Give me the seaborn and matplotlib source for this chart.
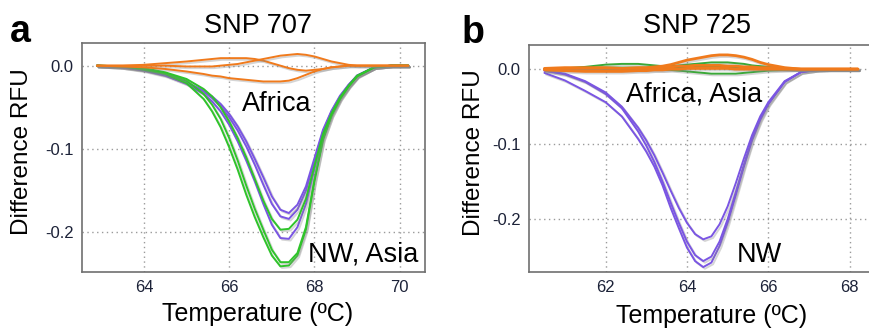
import matplotlib
matplotlib.use("Agg")
import matplotlib.pyplot as plt
import matplotlib.patheffects as pe
import seaborn as sns
import pandas as pd

# ---- panel a : SNP 707 ----
temps_a = [62.9, 63.5, 64.0, 64.5, 65.0, 65.4, 65.6, 65.8, 66.0, 66.2, 66.4, 66.6, 66.8,
           67.0, 67.2, 67.4, 67.6, 67.8, 68.0, 68.2, 68.4, 68.6, 68.8, 69.0, 69.4, 69.8, 70.2]

a_purple_1 = [0, -0.002, -0.006, -0.012, -0.022, -0.034, -0.043, -0.055, -0.071, -0.091, -0.114, -0.139, -0.166,
              -0.191, -0.207, -0.208, -0.194, -0.166, -0.124, -0.084, -0.057, -0.038, -0.024, -0.012, -0.002, 0, 0]
a_purple_2 = [0, -0.002, -0.005, -0.011, -0.020, -0.031, -0.039, -0.049, -0.062, -0.078, -0.097, -0.119, -0.143,
              -0.166, -0.181, -0.184, -0.173, -0.150, -0.114, -0.079, -0.055, -0.037, -0.023, -0.012, -0.002, 0, 0]
a_purple_3 = [0, -0.002, -0.005, -0.011, -0.020, -0.030, -0.037, -0.046, -0.058, -0.073, -0.091, -0.112, -0.134,
              -0.157, -0.173, -0.177, -0.167, -0.145, -0.111, -0.077, -0.054, -0.036, -0.023, -0.012, -0.002, 0, 0]
a_green_1 = [0, -0.001, -0.005, -0.010, -0.021, -0.040, -0.055, -0.074, -0.098, -0.125, -0.155, -0.182, -0.206,
             -0.228, -0.241, -0.240, -0.228, -0.197, -0.139, -0.089, -0.060, -0.040, -0.025, -0.013, -0.002, 0, 0]
a_green_2 = [0, -0.001, -0.004, -0.009, -0.018, -0.034, -0.047, -0.064, -0.087, -0.114, -0.144, -0.172, -0.197,
             -0.221, -0.236, -0.236, -0.225, -0.194, -0.137, -0.088, -0.060, -0.040, -0.025, -0.013, -0.002, 0, 0]
a_green_3 = [0, -0.001, -0.003, -0.008, -0.016, -0.028, -0.037, -0.050, -0.067, -0.087, -0.110, -0.136, -0.162,
             -0.184, -0.197, -0.196, -0.185, -0.160, -0.120, -0.082, -0.057, -0.038, -0.024, -0.012, -0.002, 0, 0]
a_orange_1 = [0, 0, 0.001, 0.003, 0.005, 0.007, 0.008, 0.009, 0.009, 0.009, 0.009, 0.008, 0.006,
              0.003, 0, -0.003, -0.005, -0.006, -0.005, -0.004, -0.002, -0.001, 0, 0, 0, 0, 0]
a_orange_2 = [0, 0, 0, 0, -0.001, -0.001, -0.001, 0, 0.001, 0.002, 0.004, 0.006, 0.008,
              0.010, 0.012, 0.013, 0.014, 0.013, 0.011, 0.008, 0.005, 0.003, 0.001, 0, 0, 0, 0]
a_orange_3 = [0, -0.001, -0.002, -0.004, -0.007, -0.010, -0.012, -0.013, -0.015, -0.016, -0.017, -0.018, -0.019,
              -0.019, -0.019, -0.018, -0.015, -0.011, -0.007, -0.004, -0.002, -0.001, 0, 0, 0, 0, 0]

# ---- panel b : SNP 725 ----
temps_b = [60.5, 61.0, 61.5, 62.0, 62.4, 62.8, 63.0, 63.2, 63.4, 63.6, 63.8, 64.0, 64.2, 64.4,
           64.6, 64.8, 65.0, 65.2, 65.4, 65.6, 65.8, 66.0, 66.4, 66.8, 67.2, 67.6, 68.2]

b_purple_1 = [-0.005, -0.015, -0.029, -0.044, -0.063, -0.093, -0.110, -0.130, -0.155, -0.185, -0.212, -0.238, -0.256, -0.264,
              -0.258, -0.236, -0.205, -0.168, -0.130, -0.095, -0.068, -0.047, -0.017, -0.004, -0.001, 0, 0]
b_purple_2 = [-0.002, -0.007, -0.017, -0.033, -0.052, -0.083, -0.102, -0.124, -0.150, -0.178, -0.205, -0.230, -0.248, -0.256,
              -0.250, -0.230, -0.200, -0.164, -0.127, -0.093, -0.066, -0.046, -0.017, -0.004, -0.001, 0, 0]
b_purple_3 = [-0.002, -0.006, -0.016, -0.031, -0.050, -0.078, -0.095, -0.115, -0.138, -0.162, -0.185, -0.205, -0.220, -0.227,
              -0.223, -0.207, -0.183, -0.152, -0.119, -0.088, -0.063, -0.044, -0.016, -0.004, -0.001, 0, 0]
b_green_1 = [0, 0.001, 0.003, 0.006, 0.007, 0.007, 0.006, 0.005, 0.004, 0.004, 0.005, 0.006, 0.007, 0.008,
             0.009, 0.009, 0.009, 0.008, 0.007, 0.005, 0.004, 0.003, 0.001, 0, 0, 0, 0]
b_green_2 = [0, 0, 0, -0.001, -0.001, -0.001, -0.001, -0.001, -0.001, -0.001, -0.002, -0.003, -0.004, -0.005,
             -0.006, -0.006, -0.006, -0.006, -0.005, -0.004, -0.003, -0.002, -0.001, 0, 0, 0, 0]
b_green_3 = [0, 0.001, 0.002, 0.002, 0.002, 0.002, 0.002, 0.002, 0.002, 0.002, 0.002, 0.002, 0.003, 0.003,
             0.003, 0.003, 0.002, 0.002, 0.002, 0.001, 0.001, 0.001, 0, 0, 0, 0, 0]
b_orange_1 = [0, 0, 0, 0.001, 0.001, 0.002, 0.002, 0.003, 0.004, 0.006, 0.009, 0.012, 0.014, 0.016,
              0.018, 0.019, 0.019, 0.018, 0.016, 0.013, 0.009, 0.006, 0.002, 0, 0, 0, 0]
b_orange_2 = [0.001, 0.002, 0.002, 0.002, 0.001, 0.001, 0.001, 0.002, 0.002, 0.003, 0.004, 0.004, 0.005, 0.005,
              0.005, 0.005, 0.004, 0.004, 0.003, 0.003, 0.002, 0.002, 0.001, 0, 0, 0, 0]
b_orange_3 = [-0.001, -0.002, -0.003, -0.003, -0.003, -0.002, -0.002, -0.001, -0.001, 0, 0, 0.001, 0.001, 0.001,
              0.001, 0.001, 0.001, 0, 0, 0, 0, 0, 0, 0, 0, 0, 0]

PURPLE = "#7a55e3"
GREEN_A = "#2fc42a"
GREEN_B = "#3aa838"
ORANGE = "#f07a1c"


def build_df(temps, curves):
    rows = []
    for name, vals in curves.items():
        for t, v in zip(temps, vals):
            rows.append({"T": t, "RFU": v, "curve": name})
    return pd.DataFrame(rows)


def style_axes(ax, xticks, yticks, xlim, ylim):
    ax.set_xlim(*xlim)
    ax.set_ylim(*ylim)
    ax.set_xticks(xticks)
    ax.set_yticks(yticks)
    ax.set_yticklabels([f"{y:.1f}" for y in yticks])
    ax.grid(True, color="#9a9a9a", linestyle=(0, (1, 2.5)), linewidth=1.0)
    ax.set_axisbelow(True)
    for s in ax.spines.values():
        s.set_color("#707070")
        s.set_linewidth(1.2)
        s.set_visible(True)
    ax.tick_params(direction="inout", length=6, width=1, color="#707070",
                   labelsize=12, labelcolor="#1c2238", pad=3)
    ax.set_xlabel("")
    ax.set_ylabel("")


sns.set_style("white")
plt.rcParams["font.family"] = ["Liberation Sans", "DejaVu Sans"]
plt.rcParams["text.color"] = "black"
plt.rcParams["axes.labelcolor"] = "black"

fig = plt.figure(figsize=(8.69, 3.32), dpi=100)
ax_a = fig.add_axes([0.0944, 0.181, 0.3946, 0.689])
ax_b = fig.add_axes([0.6087, 0.182, 0.395, 0.682])

# panel a
curves_a = {"pa1": a_purple_1, "pa2": a_purple_2, "pa3": a_purple_3,
            "ga1": a_green_1, "ga2": a_green_2, "ga3": a_green_3,
            "oa1": a_orange_1, "oa2": a_orange_2, "oa3": a_orange_3}
pal_a = {k: (PURPLE if k[0] == "p" else GREEN_A if k[0] == "g" else ORANGE) for k in curves_a}
df_a = build_df(temps_a, curves_a)
sns.lineplot(data=df_a, x="T", y="RFU", hue="curve", palette=pal_a, estimator=None,
             sort=False, legend=False, linewidth=1.4, ax=ax_a)

# panel b
curves_b = {"pb1": b_purple_1, "pb2": b_purple_2, "pb3": b_purple_3,
            "gb1": b_green_1, "gb2": b_green_2, "gb3": b_green_3,
            "ob1": b_orange_1, "ob2": b_orange_2, "ob3": b_orange_3}
pal_b = {k: (PURPLE if k[0] == "p" else GREEN_B if k[0] == "g" else ORANGE) for k in curves_b}
df_b = build_df(temps_b, curves_b)
sns.lineplot(data=df_b, x="T", y="RFU", hue="curve", palette=pal_b, estimator=None,
             sort=False, legend=False, linewidth=1.4, ax=ax_b)
for ln in ax_b.lines:
    if ln.get_color() == ORANGE:
        ln.set_linewidth(2.0)

for ax in (ax_a, ax_b):
    for ln in ax.lines:
        ln.set_path_effects([pe.SimpleLineShadow(offset=(1.2, -1.2), shadow_color="#888888", alpha=0.35),
                             pe.Normal()])

style_axes(ax_a, [64, 66, 68, 70], [0.0, -0.1, -0.2], (62.55, 70.59), (-0.2477, 0.027))
style_axes(ax_b, [62, 64, 66, 68], [0.0, -0.1, -0.2], (60.12, 68.55), (-0.270, 0.032))

# labels
ax_a.text(0.513, 1.044, "SNP 707", transform=ax_a.transAxes, ha="center", va="baseline", fontsize=19.5)
ax_b.text(0.491, 1.054, "SNP 725", transform=ax_b.transAxes, ha="center", va="baseline", fontsize=19.5)
ax_a.set_ylabel("Difference RFU", fontsize=17.5)
ax_a.yaxis.set_label_coords(-0.143, 0.524)
ax_b.set_ylabel("Difference RFU", fontsize=17.5)
ax_b.yaxis.set_label_coords(-0.129, 0.524)
ax_a.set_xlabel("Temperature (ºC)", fontsize=18)
ax_a.xaxis.set_label_coords(0.513, -0.13)
ax_b.set_xlabel("Temperature (ºC)", fontsize=18)
ax_b.xaxis.set_label_coords(0.532, -0.145)

ax_a.text(66.3, -0.0544, "Africa", fontsize=19.5, ha="left", va="baseline")
ax_a.text(67.84, -0.2353, "NW, Asia", fontsize=19.5, ha="left", va="baseline")
ax_b.text(62.5, -0.0436, "Africa, Asia", fontsize=19.5, ha="left", va="baseline")
ax_b.text(65.22, -0.257, "NW", fontsize=19.5, ha="left", va="baseline")

fig.text(10 / 869, 1 - 41.7 / 332, "a", fontsize=27, fontweight="bold", va="baseline")
fig.text(462 / 869, 1 - 42.7 / 332, "b", fontsize=27, fontweight="bold", va="baseline")

fig.savefig("out.png", dpi=100)
